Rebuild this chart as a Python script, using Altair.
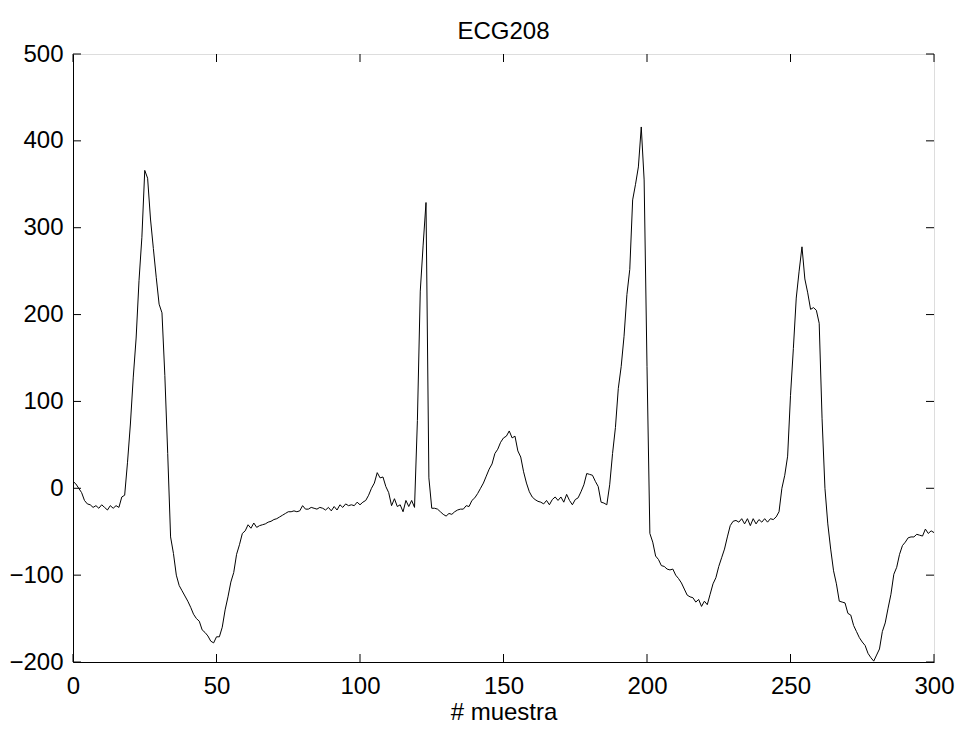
import altair as alt
import pandas as pd

# ECG samples 0..300
ecg = [
    8, 5, 0, -5, -14, -18, -19, -22, -20, -23,
    -19, -22, -25, -20, -23, -20, -22, -10, -8, 30,
    74, 128, 173, 239, 289, 366, 357, 310, 276, 243,
    212, 202, 130, 40, -56, -75, -100, -112, -118, -124,
    -130, -137, -145, -150, -153, -163, -166, -170, -176, -178,
    -171, -171, -160, -140, -125, -108, -97, -76, -65, -52,
    -49, -42, -46, -40, -45, -43, -42, -41, -39, -38,
    -36, -35, -33, -31, -29, -27, -27, -26, -27, -26,
    -20, -24, -24, -22, -23, -24, -22, -23, -25, -22,
    -26, -21, -25, -19, -22, -18, -20, -19, -20, -16,
    -19, -16, -14, -8, 0, 6, 18, 12, 13, 2,
    -5, -20, -12, -21, -19, -27, -14, -21, -14, -22,
    78, 227, 280, 329, 12, -23, -23, -24, -27, -30,
    -32, -29, -30, -27, -25, -24, -24, -20, -21, -14,
    -11, -6, 0, 6, 14, 22, 28, 40, 45, 53,
    58, 60, 66, 58, 60, 43, 36, 19, 6, -4,
    -10, -13, -15, -16, -18, -14, -19, -13, -10, -14,
    -10, -16, -7, -14, -19, -13, -11, -4, 4, 17,
    16, 15, 8, 2, -16, -17, -19, 4, 40, 70,
    115, 140, 175, 223, 252, 332, 350, 370, 416, 355,
    140, -52, -62, -78, -82, -89, -90, -93, -94, -93,
    -100, -104, -109, -116, -123, -125, -126, -131, -128, -136,
    -130, -134, -122, -110, -103, -90, -80, -70, -56, -43,
    -38, -37, -39, -35, -41, -35, -43, -35, -41, -36,
    -39, -35, -39, -35, -36, -33, -27, 0, 15, 37,
    107, 161, 219, 250, 278, 241, 225, 206, 208, 205,
    190, 80, 0, -41, -70, -95, -110, -130, -131, -132,
    -144, -146, -158, -165, -172, -177, -181, -190, -195, -199,
    -192, -185, -165, -155, -138, -122, -99, -91, -76, -66,
    -62, -57, -56, -56, -53, -54, -55, -47, -52, -49,
    -51,
]
samples = list(range(len(ecg)))

x_ticks = [0, 50, 100, 150, 200, 250, 300]
y_ticks = [-200, -100, 0, 100, 200, 300, 400, 500]

W, H = 861, 608
FONT = "Liberation Sans"
TL = 8  # inward tick length (px)

df = pd.DataFrame({"n": samples, "v": ecg})
xt = pd.DataFrame({"t": x_ticks})
yt = pd.DataFrame({"t": y_ticks})

xscale = alt.Scale(domain=[0, 300], nice=False, zero=False)
yscale = alt.Scale(domain=[-200, 500], nice=False, zero=False)

line = alt.Chart(df).mark_line(color="black", strokeWidth=1, clip=True).encode(
    x=alt.X("n:Q", scale=xscale, title="# muestra",
            axis=alt.Axis(values=x_ticks, ticks=False, grid=False, labelPadding=12,
                          labelFlush=False, labelOverlap=False,
                          labelFontSize=24, titleFontSize=24, titleFontWeight="normal",
                          titlePadding=2, labelFont=FONT, titleFont=FONT,
                          domainColor="black", labelColor="black", titleColor="black")),
    y=alt.Y("v:Q", scale=yscale, title=None,
            axis=alt.Axis(values=y_ticks, ticks=False, grid=False, labelPadding=10,
                          labelFlush=False, labelOverlap=False,
                          labelFontSize=24, labelFont=FONT,
                          domainColor="black", labelColor="black")),
)

left_ticks = alt.Chart(yt).mark_rule(color="black", strokeWidth=1).encode(
    y=alt.Y("t:Q", scale=yscale), x=alt.value(0), x2=alt.value(TL))
right_ticks = alt.Chart(yt).mark_rule(color="black", strokeWidth=1).encode(
    y=alt.Y("t:Q", scale=yscale), x=alt.value(W - TL), x2=alt.value(W))
bottom_ticks = alt.Chart(xt).mark_rule(color="black", strokeWidth=1).encode(
    x=alt.X("t:Q", scale=xscale), y=alt.value(H), y2=alt.value(H - TL))
top_ticks = alt.Chart(xt).mark_rule(color="black", strokeWidth=1).encode(
    x=alt.X("t:Q", scale=xscale), y=alt.value(0), y2=alt.value(TL))

chart = alt.layer(line, left_ticks, right_ticks, bottom_ticks, top_ticks).properties(
    width=W, height=H,
    title=alt.Title("ECG208", fontSize=24, font=FONT, fontWeight="normal", color="black",
                    anchor="middle", frame="group", offset=10, dy=12),
    autosize=alt.AutoSizeParams(type="none"),
    padding={"left": 65, "top": 46, "right": 21, "bottom": 64},
).configure_view(stroke="black", strokeWidth=1).configure(background="white")

chart.save("out.html", embed_options={"renderer": "svg", "actions": False})
